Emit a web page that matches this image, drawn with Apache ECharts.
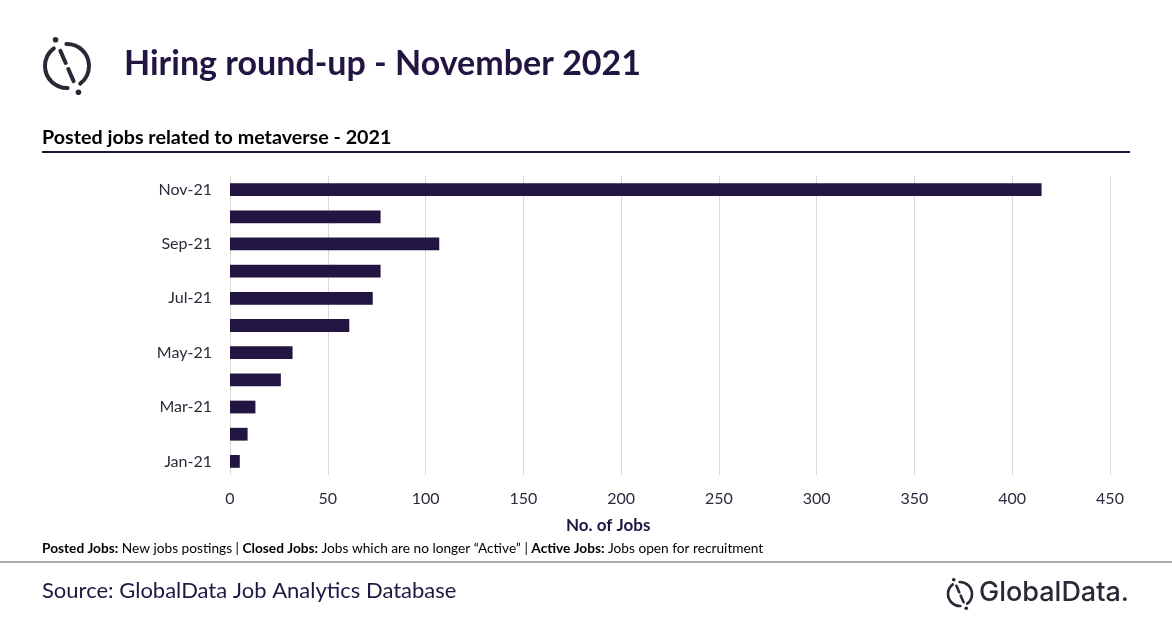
<!DOCTYPE html>
<html lang="en">
<head>
    <meta charset="UTF-8">
    <title>Hiring round-up - November 2021</title>
    <script src="https://cdn.jsdelivr.net/npm/echarts@6/dist/echarts.min.js"></script>
    <style>
        html, body { margin: 0; padding: 0; background: #fff; }
        #main { width: 1172px; height: 628px; }
    </style>
</head>
<body>
<div id="main"></div>
<script type="text/javascript">
    // data
    var months = ['Jan-21', 'Feb-21', 'Mar-21', 'Apr-21', 'May-21', 'Jun-21', 'Jul-21', 'Aug-21', 'Sep-21', 'Oct-21', 'Nov-21'];
    var postedJobs = [5, 9, 13, 26, 32, 61, 73, 77, 107, 77, 415];
    var xTicks = [0, 50, 100, 150, 200, 250, 300, 350, 400, 450];

    var ink = '#231541';
    var font = 'Lato, "Open Sans", sans-serif';

    // little GlobalData mark: broken circle with a slash through it
    function logoMark(cx, cy, r, lw, color) {
        var a = 66.4 * Math.PI / 180;
        var dx = Math.cos(a), dy = Math.sin(a);
        var gap = 22 * Math.PI / 180;
        var st = { stroke: color, lineWidth: lw, fill: null, lineCap: 'round' };
        var out = [];
        out.push({ type: 'arc', shape: { cx: cx, cy: cy, r: r, startAngle: a - Math.PI + gap, endAngle: a - gap * 0.6, clockwise: true }, style: st });
        out.push({ type: 'arc', shape: { cx: cx, cy: cy, r: r, startAngle: a + gap, endAngle: a + Math.PI - gap * 0.6, clockwise: true }, style: st });
        out.push({ type: 'line', shape: { x1: cx - dx * r * 0.75, y1: cy - dy * r * 0.75, x2: cx - dx * r * 0.15, y2: cy - dy * r * 0.15 }, style: st });
        out.push({ type: 'line', shape: { x1: cx + dx * r * 0.15, y1: cy + dy * r * 0.15, x2: cx + dx * r * 0.75, y2: cy + dy * r * 0.75 }, style: st });
        out.push({ type: 'circle', shape: { cx: cx - dx * r * 1.3, cy: cy - dy * r * 1.3, r: lw * 0.7 }, style: { fill: color } });
        out.push({ type: 'circle', shape: { cx: cx + dx * r * 1.3, cy: cy + dy * r * 1.3, r: lw * 0.7 }, style: { fill: color } });
        return out;
    }

    var myChart = echarts.init(document.getElementById('main'));

    var graphics = [];
    graphics = graphics.concat(logoMark(67, 66, 22, 4, '#2b2836'));
    graphics.push({
        type: 'text', left: 124, top: 47,
        style: { text: 'Hiring round-up - November 2021', font: 'bold 34px ' + font, fill: ink }
    });
    graphics.push({
        type: 'text', left: 42, top: 128,
        style: { text: 'Posted jobs related to metaverse - 2021', font: 'bold 19.7px ' + font, fill: '#000' }
    });
    graphics.push({
        type: 'line', shape: { x1: 42, y1: 152, x2: 1130, y2: 152 },
        style: { stroke: ink, lineWidth: 2 }
    });
    graphics.push({
        type: 'text', left: 566, top: 517,
        style: { text: 'No. of Jobs', font: 'bold 17px ' + font, fill: ink }
    });
    graphics.push({
        type: 'text', left: 42, top: 542,
        style: {
            text: '{b|Posted Jobs:} New jobs postings | {b|Closed Jobs:} Jobs which are no longer \u201cActive\u201d | {b|Active Jobs:} Jobs open for recruitment',
            font: '13.7px ' + font, fill: '#000',
            rich: { b: { fontWeight: 'bold', fontSize: 13.7, fontFamily: font, fill: '#000' } }
        }
    });
    graphics.push({
        type: 'line', shape: { x1: 0, y1: 562, x2: 1172, y2: 562 },
        style: { stroke: '#8c8c8c', lineWidth: 1.5 }
    });
    graphics.push({
        type: 'text', left: 42, top: 580,
        style: { text: 'Source: GlobalData Job Analytics Database', font: '22px ' + font, fill: ink }
    });
    graphics = graphics.concat(logoMark(960, 594, 12, 2.6, '#2b2836'));
    graphics.push({
        type: 'text', left: 979, top: 579,
        style: { text: 'GlobalData.', font: '500 27px Inter, Lato, sans-serif', fill: '#2b2836' }
    });

    myChart.setOption({
        animation: false,
        grid: { left: 230, right: 62, top: 176, bottom: 153, containLabel: false },
        xAxis: {
            type: 'value',
            min: xTicks[0],
            max: xTicks[xTicks.length - 1],
            interval: xTicks[1] - xTicks[0],
            axisLine: { show: false },
            axisTick: { show: false },
            splitLine: { lineStyle: { color: '#d9d9d9', width: 1 } },
            axisLabel: { color: '#2e2a3c', fontSize: 16, fontFamily: font, margin: 16 }
        },
        yAxis: {
            type: 'category',
            data: months,
            axisLine: { show: false },
            axisTick: { show: false },
            axisLabel: { interval: 1, color: '#2e2a3c', fontSize: 16, fontFamily: font, margin: 18 }
        },
        series: [{
            name: 'Posted jobs',
            type: 'bar',
            data: postedJobs,
            barWidth: '47%',
            itemStyle: { color: ink }
        }],
        graphic: graphics
    });
</script>
</body>
</html>
